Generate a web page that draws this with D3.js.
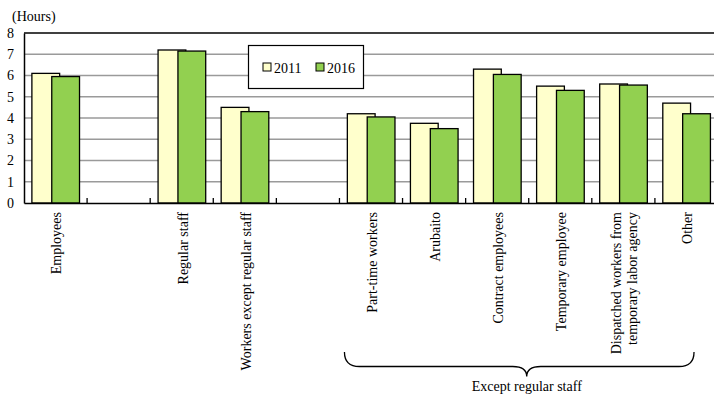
<!DOCTYPE html>
<html>
<head>
<meta charset="utf-8">
<script src="https://cdn.jsdelivr.net/npm/d3@7"></script>
<style>
  html, body { margin: 0; padding: 0; background: #fff; }
  svg { display: block; }
  svg text { font-family: "Liberation Serif", "Times New Roman", serif; }
</style>
</head>
<body>
<svg id="chart" width="714" height="396"></svg>
<script>
// ---- data ----
const slots = ["Employees", "_gap1", "Regular staff", "Workers except regular staff", "_gap2",
  "Part-time workers", "Arubaito", "Contract employees", "Temporary employee",
  "Dispatched workers from|temporary labor agency", "Other"];
const years = ["2011", "2016"];
const values2011 = [6.1, null, 7.2, 4.5, null, 4.2, 3.75, 6.3, 5.5, 5.6, 4.7];
const values2016 = [5.95, null, 7.15, 4.3, null, 4.05, 3.5, 6.05, 5.3, 5.55, 4.2];
const yTicks = [0, 1, 2, 3, 4, 5, 6, 7, 8];
const colors = { "2011": "#FFFFCC", "2016": "#92D050" };
const unitLabel = "(Hours)";
const braceLabel = "Except regular staff";

(function () {
const FONT = "Liberation Serif";
const svg = d3.select("#chart");
const pLeft = 24, pRight = 718, pTop = 33, pBottom = 203;

const x = d3.scaleBand().domain(slots).range([pLeft, pRight]).padding(0);
const y = d3.scaleLinear().domain([0, 8]).range([pBottom, pTop]);
const bw = x.bandwidth();
const barW = bw * 0.44;
const off = d3.scalePoint().domain(years).range([bw * 0.125, bw * 0.44]);

// gridlines
svg.append("g").selectAll("line").data(yTicks.filter(d => d > 0 && d < 8)).join("line")
  .attr("x1", pLeft).attr("x2", pRight)
  .attr("y1", d => y(d)).attr("y2", d => y(d))
  .attr("stroke", "#9a9a9a").attr("stroke-width", 1.5);

// top frame
svg.append("line").attr("x1", pLeft).attr("x2", pRight).attr("y1", y(8)).attr("y2", y(8))
  .attr("stroke", "#000").attr("stroke-width", 1.5);

// bars
const series = { "2011": values2011, "2016": values2016 };
years.forEach(yr => {
  svg.append("g").selectAll("rect")
    .data(slots.map((s, i) => ({ s, v: series[yr][i] })).filter(d => d.v != null))
    .join("rect")
    .attr("x", d => x(d.s) + off(yr))
    .attr("y", d => y(d.v))
    .attr("width", barW)
    .attr("height", d => y(0) - y(d.v))
    .attr("fill", colors[yr])
    .attr("stroke", "#000")
    .attr("stroke-width", 1.3);
});

// y axis
const yAxis = d3.axisLeft(y).tickValues(yTicks).tickSize(0).tickPadding(10).tickFormat(d3.format("d"));
const gy = svg.append("g").attr("transform", `translate(${pLeft},0)`).call(yAxis)
  .attr("font-family", FONT);
gy.select(".domain").attr("stroke", "#000").attr("stroke-width", 1.5);
gy.selectAll("text").attr("font-size", 14).attr("font-family", FONT).attr("fill", "#000");

// x axis with inward ticks at slot boundaries
const xAxis = d3.axisBottom(x).tickSize(0).tickFormat("");
const gx = svg.append("g").attr("transform", `translate(0,${pBottom})`).call(xAxis);
gx.select(".domain").attr("stroke", "#000").attr("stroke-width", 1.5);
gx.selectAll(".tick").remove();
svg.append("g").selectAll("line").data(slots.slice(1)).join("line")
  .attr("x1", d => x(d)).attr("x2", d => x(d))
  .attr("y1", pBottom).attr("y2", pBottom - 5)
  .attr("stroke", "#000").attr("stroke-width", 1.3);

// category labels (rotated)
slots.forEach(s => {
  if (s.startsWith("_")) return;
  const lines = s.split("|");
  const cx = x(s) + bw / 2 + 1;
  const t = svg.append("text")
    .attr("transform", `translate(${cx},212) rotate(-90)`)
    .attr("text-anchor", "end")
    .attr("font-family", FONT)
    .attr("font-size", 14)
    .attr("fill", "#000");
  lines.forEach((ln, i) => {
    t.append("tspan").attr("x", 0)
      .attr("dy", i === 0 ? (0.35 - (lines.length - 1) * 0.57) + "em" : "1.15em")
      .text(ln);
  });
});

// unit label
svg.append("text").attr("x", 12).attr("y", 21).attr("font-family", FONT)
  .attr("font-size", 14).attr("fill", "#000").text(unitLabel);

// legend
const lg = svg.append("g");
lg.append("rect").attr("x", 248.5).attr("y", 45.5).attr("width", 115).attr("height", 43)
  .attr("fill", "#fff").attr("stroke", "#000").attr("stroke-width", 1.2);
const legX = { "2011": 263, "2016": 316 };
years.forEach(yr => {
  lg.append("rect").attr("x", legX[yr]).attr("y", 63).attr("width", 8).attr("height", 8)
    .attr("fill", colors[yr]).attr("stroke", "#000").attr("stroke-width", 1);
  lg.append("text").attr("x", legX[yr] + 11).attr("y", 72.5).attr("font-family", FONT)
    .attr("font-size", 14).attr("fill", "#000").text(yr);
});

// brace under the "except regular staff" group
const bL = x("Part-time workers") + 5, bR = x("Other") + bw * 0.62;
const bMid = x("Temporary employee") - 2, by0 = 352, by1 = 366.5, by2 = 376.5, r = 15, rm = 14;
const path = d3.path();
path.moveTo(bL, by0);
path.quadraticCurveTo(bL, by1, bL + r, by1);
path.lineTo(bMid - rm, by1);
path.quadraticCurveTo(bMid, by1, bMid, by2);
path.quadraticCurveTo(bMid, by1, bMid + rm, by1);
path.lineTo(bR - r, by1);
path.quadraticCurveTo(bR, by1, bR, by0);
svg.append("path").attr("d", path.toString()).attr("fill", "none").attr("stroke", "#000").attr("stroke-width", 1.3);
svg.append("text").attr("x", bMid).attr("y", 391).attr("text-anchor", "middle")
  .attr("font-family", FONT).attr("font-size", 14).attr("fill", "#000").text(braceLabel);
})();
</script>
</body>
</html>
